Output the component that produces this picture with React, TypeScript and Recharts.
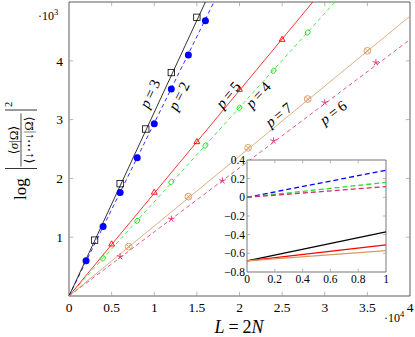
import React from 'react';
import { ComposedChart, Line, Scatter, XAxis, YAxis, ReferenceLine, ReferenceArea, ReferenceDot, CartesianGrid } from 'recharts';

const FONT = '"Liberation Serif", "DejaVu Serif", serif';

// main plot: x in units of 10^4, y in units of 10^3
const X_TICKS = [0, 0.5, 1, 1.5, 2, 2.5, 3, 3.5, 4];
const Y_TICKS = [1, 2, 3, 4];

const P2_X = [0.2, 0.4, 0.6, 0.8, 1.0, 1.2, 1.4, 1.6];
const P2_Y = [0.6, 1.18, 1.76, 2.35, 2.93, 3.52, 4.1, 4.68];
const P3_X = [0.3, 0.6, 0.9, 1.2, 1.5];
const P3_Y = [0.95, 1.91, 2.84, 3.8, 4.74];
const P4_X = [0.4, 0.8, 1.2, 1.6, 2.0, 2.4, 2.8];
const P4_Y = [0.64, 1.28, 1.94, 2.56, 3.2, 3.83, 4.48];
const P5_X = [0.5, 1.0, 1.5, 2.0, 2.5];
const P5_Y = [0.88, 1.76, 2.62, 3.51, 4.36];
const P6_X = [0.6, 1.2, 1.8, 2.4, 3.0, 3.6];
const P6_Y = [0.67, 1.31, 1.96, 2.64, 3.29, 3.97];
const P7_X = [0.7, 1.4, 2.1, 2.8, 3.5];
const P7_Y = [0.84, 1.69, 2.52, 3.35, 4.17];

// fitted lines start at the origin and end here
const FIT_END_X = [1.7, 1.6, 3.12, 2.86, 4, 4];
const FIT_END_Y = [5, 5, 5, 5, 4.36, 4.76];

// inset: x from 0 to 1, line values at both ends
const INSET_X_TICKS = [0, 0.2, 0.4, 0.6, 0.8, 1];
const INSET_Y_TICKS = [-0.8, -0.6, -0.4, -0.2, 0, 0.2, 0.4];
const INSET_START = [0, -0.68, 0, -0.68, 0, -0.68];
const INSET_END = [0.29, -0.37, 0.16, -0.51, 0.115, -0.57];

const zip = (xs: number[], ys: number[]) => xs.map((x, i) => ({ x, y: ys[i] }));

const SERIES = [
  { p: 2, color: '#0000ff', dash: '4 3', pts: zip(P2_X, P2_Y), mark: 'dot' },
  { p: 3, color: '#000000', dash: undefined, pts: zip(P3_X, P3_Y), mark: 'square' },
  { p: 4, color: '#22e022', dash: '4 3', pts: zip(P4_X, P4_Y), mark: 'o' },
  { p: 5, color: '#ff0000', dash: undefined, pts: zip(P5_X, P5_Y), mark: 'triangle' },
  { p: 6, color: '#d2306e', dash: '4 3', pts: zip(P6_X, P6_Y), mark: 'star' },
  { p: 7, color: '#d69a62', dash: undefined, pts: zip(P7_X, P7_Y), mark: 'otimes' },
];

// p = ... annotations, in data coordinates, rotated along the lines
const LABELS = [
  { p: 3, x: 0.95, y: 3.44, angle: -65 },
  { p: 2, x: 1.29, y: 3.4, angle: -63.5 },
  { p: 5, x: 1.87, y: 3.42, angle: -50.4 },
  { p: 4, x: 2.22, y: 3.42, angle: -47.8 },
  { p: 7, x: 2.46, y: 3.08, angle: -39.4 },
  { p: 6, x: 3.1, y: 3.12, angle: -36.9 },
];

const Marker = ({ cx, cy, kind, color }: any) => {
  if (cx == null || cy == null) return null;
  const r = 3.4;
  if (kind === 'dot') return <circle cx={cx} cy={cy} r={3.5} fill={color} />;
  if (kind === 'square')
    return <rect x={cx - 3.2} y={cy - 3.2} width={6.4} height={6.4} fill="none" stroke={color} strokeWidth={0.8} />;
  if (kind === 'o')
    return <ellipse cx={cx} cy={cy} rx={2.2} ry={2.8} transform={`rotate(35 ${cx} ${cy})`} fill="none" stroke={color} strokeWidth={0.9} />;
  if (kind === 'triangle')
    return (
      <polygon
        points={`${cx},${cy - r} ${cx - r * 0.87},${cy + r * 0.5} ${cx + r * 0.87},${cy + r * 0.5}`}
        fill="none"
        stroke={color}
        strokeWidth={0.9}
      />
    );
  if (kind === 'otimes') {
    const d = r * 0.7;
    return (
      <g stroke={color} strokeWidth={0.9} fill="none">
        <circle cx={cx} cy={cy} r={r} />
        <line x1={cx - d} y1={cy - d} x2={cx + d} y2={cy + d} />
        <line x1={cx - d} y1={cy + d} x2={cx + d} y2={cy - d} />
      </g>
    );
  }
  // five armed star
  const arms = [0, 72, 144, 216, 288].map((a) => {
    const t = ((a - 90) * Math.PI) / 180;
    return <line key={a} x1={cx} y1={cy} x2={cx + r * Math.cos(t)} y2={cy + r * Math.sin(t)} />;
  });
  return (
    <g stroke={color} strokeWidth={0.9}>
      {arms}
    </g>
  );
};

const PLabel = ({ cx, cy, p, angle }: any) => (
  <text
    x={cx}
    y={cy}
    transform={`rotate(${angle} ${cx} ${cy})`}
    textAnchor="middle"
    dominantBaseline="central"
    fontFamily={FONT}
    fontSize={15}
    fill="#000"
  >
    <tspan fontStyle="italic">p</tspan>
    <tspan dx={3}>=</tspan>
    <tspan dx={3}>{p}</tspan>
  </text>
);

const minus = (v: number) => (v < 0 ? '\u2212' + String(Math.abs(v)) : String(v));

const makeXTick = (size: number) => (props: any) => (
  <text x={props.x} y={props.y} dy="0.71em" textAnchor="middle" fontFamily={FONT} fontSize={size} fill="#000">
    {minus(props.payload.value)}
  </text>
);

const makeYTick = (size: number) => (props: any) => (
  <text x={props.x} y={props.y} dy="0.35em" textAnchor="end" fontFamily={FONT} fontSize={size} fill="#000">
    {minus(props.payload.value)}
  </text>
);

const MainChart = () => (
  <ComposedChart width={415} height={337} margin={{ top: 2, right: 5, bottom: 11, left: 5 }}>
    <XAxis
      type="number"
      dataKey="x"
      domain={[0, 4]}
      ticks={X_TICKS}
      interval={0}
      axisLine={false}
      tickLine={false}
      tickSize={3}
      tickMargin={3}
      height={30}
      tick={makeXTick(13.5)}
    />
    <YAxis
      type="number"
      dataKey="y"
      domain={[0, 5]}
      ticks={Y_TICKS}
      interval={0}
      axisLine={false}
      tickLine={false}
      tickSize={3}
      tickMargin={3}
      width={64}
      tick={makeYTick(13.5)}
    />
    {X_TICKS.slice(1, -1).map((t) => (
      <ReferenceLine key={`xb${t}`} segment={[{ x: t, y: 0 }, { x: t, y: 0.07 }]} stroke="#999" strokeWidth={0.7} />
    ))}
    {X_TICKS.slice(1, -1).map((t) => (
      <ReferenceLine key={`xt${t}`} segment={[{ x: t, y: 5 }, { x: t, y: 4.93 }]} stroke="#999" strokeWidth={0.7} />
    ))}
    {Y_TICKS.map((t) => (
      <ReferenceLine key={`yl${t}`} segment={[{ x: 0, y: t }, { x: 0.05, y: t }]} stroke="#999" strokeWidth={0.7} />
    ))}
    {Y_TICKS.map((t) => (
      <ReferenceLine key={`yr${t}`} segment={[{ x: 4, y: t }, { x: 3.95, y: t }]} stroke="#999" strokeWidth={0.7} />
    ))}
    {SERIES.map((s, i) => (
      <Line
        key={`fit${s.p}`}
        data={[{ x: 0, y: 0 }, { x: FIT_END_X[i], y: FIT_END_Y[i] }]}
        dataKey="y"
        stroke={s.color}
        strokeWidth={0.8}
        strokeDasharray={s.dash}
        dot={false}
        activeDot={false}
        isAnimationActive={false}
      />
    ))}
    {SERIES.map((s) => (
      <Scatter
        key={`pts${s.p}`}
        data={s.pts}
        dataKey="y"
        isAnimationActive={false}
        shape={(props: any) => <Marker cx={props.cx} cy={props.cy} kind={s.mark} color={s.color} />}
      />
    ))}
    {LABELS.map((l) => (
      <ReferenceDot
        key={`lab${l.p}`}
        x={l.x}
        y={l.y}
        r={0}
        shape={(props: any) => <PLabel cx={props.cx} cy={props.cy} p={l.p} angle={l.angle} />}
      />
    ))}
    <ReferenceArea x1={0} x2={4} y1={0} y2={5} fill="none" stroke="#333" strokeWidth={0.8} />
  </ComposedChart>
);

const InsetChart = () => (
  <ComposedChart width={175} height={140} margin={{ top: 5, right: 4, bottom: 3, left: 0 }}>
    <CartesianGrid horizontal={false} vertical={false} fill="#ffffff" fillOpacity={1} />
    <XAxis
      type="number"
      dataKey="x"
      domain={[0, 1]}
      ticks={INSET_X_TICKS}
      interval={0}
      axisLine={false}
      tickLine={false}
      tickSize={2}
      tickMargin={1}
      height={20}
      tick={makeXTick(11.5)}
    />
    <YAxis
      type="number"
      dataKey="y"
      domain={[-0.8, 0.4]}
      ticks={INSET_Y_TICKS}
      interval={0}
      axisLine={false}
      tickLine={false}
      tickSize={1}
      tickMargin={1}
      width={32}
      tick={makeYTick(11.5)}
    />
    {INSET_X_TICKS.slice(1, -1).map((t) => (
      <ReferenceLine key={`ixb${t}`} segment={[{ x: t, y: -0.8 }, { x: t, y: -0.765 }]} stroke="#999" strokeWidth={0.7} />
    ))}
    {INSET_X_TICKS.slice(1, -1).map((t) => (
      <ReferenceLine key={`ixt${t}`} segment={[{ x: t, y: 0.4 }, { x: t, y: 0.365 }]} stroke="#999" strokeWidth={0.7} />
    ))}
    {INSET_Y_TICKS.slice(1, -1).map((t) => (
      <ReferenceLine key={`iyl${t}`} segment={[{ x: 0, y: t }, { x: 0.022, y: t }]} stroke="#999" strokeWidth={0.7} />
    ))}
    {INSET_Y_TICKS.slice(1, -1).map((t) => (
      <ReferenceLine key={`iyr${t}`} segment={[{ x: 1, y: t }, { x: 0.978, y: t }]} stroke="#999" strokeWidth={0.7} />
    ))}
    {SERIES.map((s, i) => (
      <Line
        key={`in${s.p}`}
        data={[{ x: 0, y: INSET_START[i] }, { x: 1, y: INSET_END[i] }]}
        dataKey="y"
        stroke={s.color}
        strokeWidth={1.3}
        strokeDasharray={s.dash ? '5 3' : undefined}
        dot={false}
        activeDot={false}
        isAnimationActive={false}
      />
    ))}
    <ReferenceArea x1={0} x2={1} y1={-0.8} y2={0.4} fill="none" stroke="#555" strokeWidth={0.8} />
  </ComposedChart>
);

const Titles = () => (
  <svg width={415} height={337} style={{ position: 'absolute', left: 0, top: 0, pointerEvents: 'none' }}>
    <g fontFamily={FONT} fill="#000">
      <text x={38} y={20} fontSize={12}>
        ·10<tspan fontSize={8.5} dy={-5}>3</tspan>
      </text>
      <text x={384} y={322} fontSize={12}>
        ·10<tspan fontSize={8.5} dy={-5}>4</tspan>
      </text>
      <text x={239} y={333} fontSize={18} textAnchor="middle">
        <tspan fontStyle="italic">L</tspan>
        <tspan dx={4}>=</tspan>
        <tspan dx={4}>2</tspan>
        <tspan fontStyle="italic">N</tspan>
      </text>
      <g transform="translate(21,150) rotate(-90)">
        <text x={-50} y={5} fontSize={17}>log</text>
        <line x1={-18.5} y1={-16} x2={-18.5} y2={16} stroke="#000" strokeWidth={0.8} />
        <line x1={40} y1={-16} x2={40} y2={16} stroke="#000" strokeWidth={0.8} />
        <line x1={-16.5} y1={0} x2={36.5} y2={0} stroke="#000" strokeWidth={0.7} />
        <text x={10} y={-3.5} fontSize={13} textAnchor="middle">
          ⟨<tspan fontStyle="italic">σ</tspan>|Ω⟩
        </text>
        <text x={10} y={12} fontSize={12.5} textAnchor="middle">
          ⟨↓⋯↓|Ω⟩
        </text>
        <text x={43} y={-9} fontSize={10.5}>2</text>
      </g>
    </g>
  </svg>
);

export default function App() {
  return (
    <div style={{ position: 'absolute', left: 0, top: 0, width: 415, height: 337, background: '#fff' }}>
      <MainChart />
      <Titles />
      <div style={{ position: 'absolute', left: 215, top: 155 }}>
        <InsetChart />
      </div>
    </div>
  );
}
